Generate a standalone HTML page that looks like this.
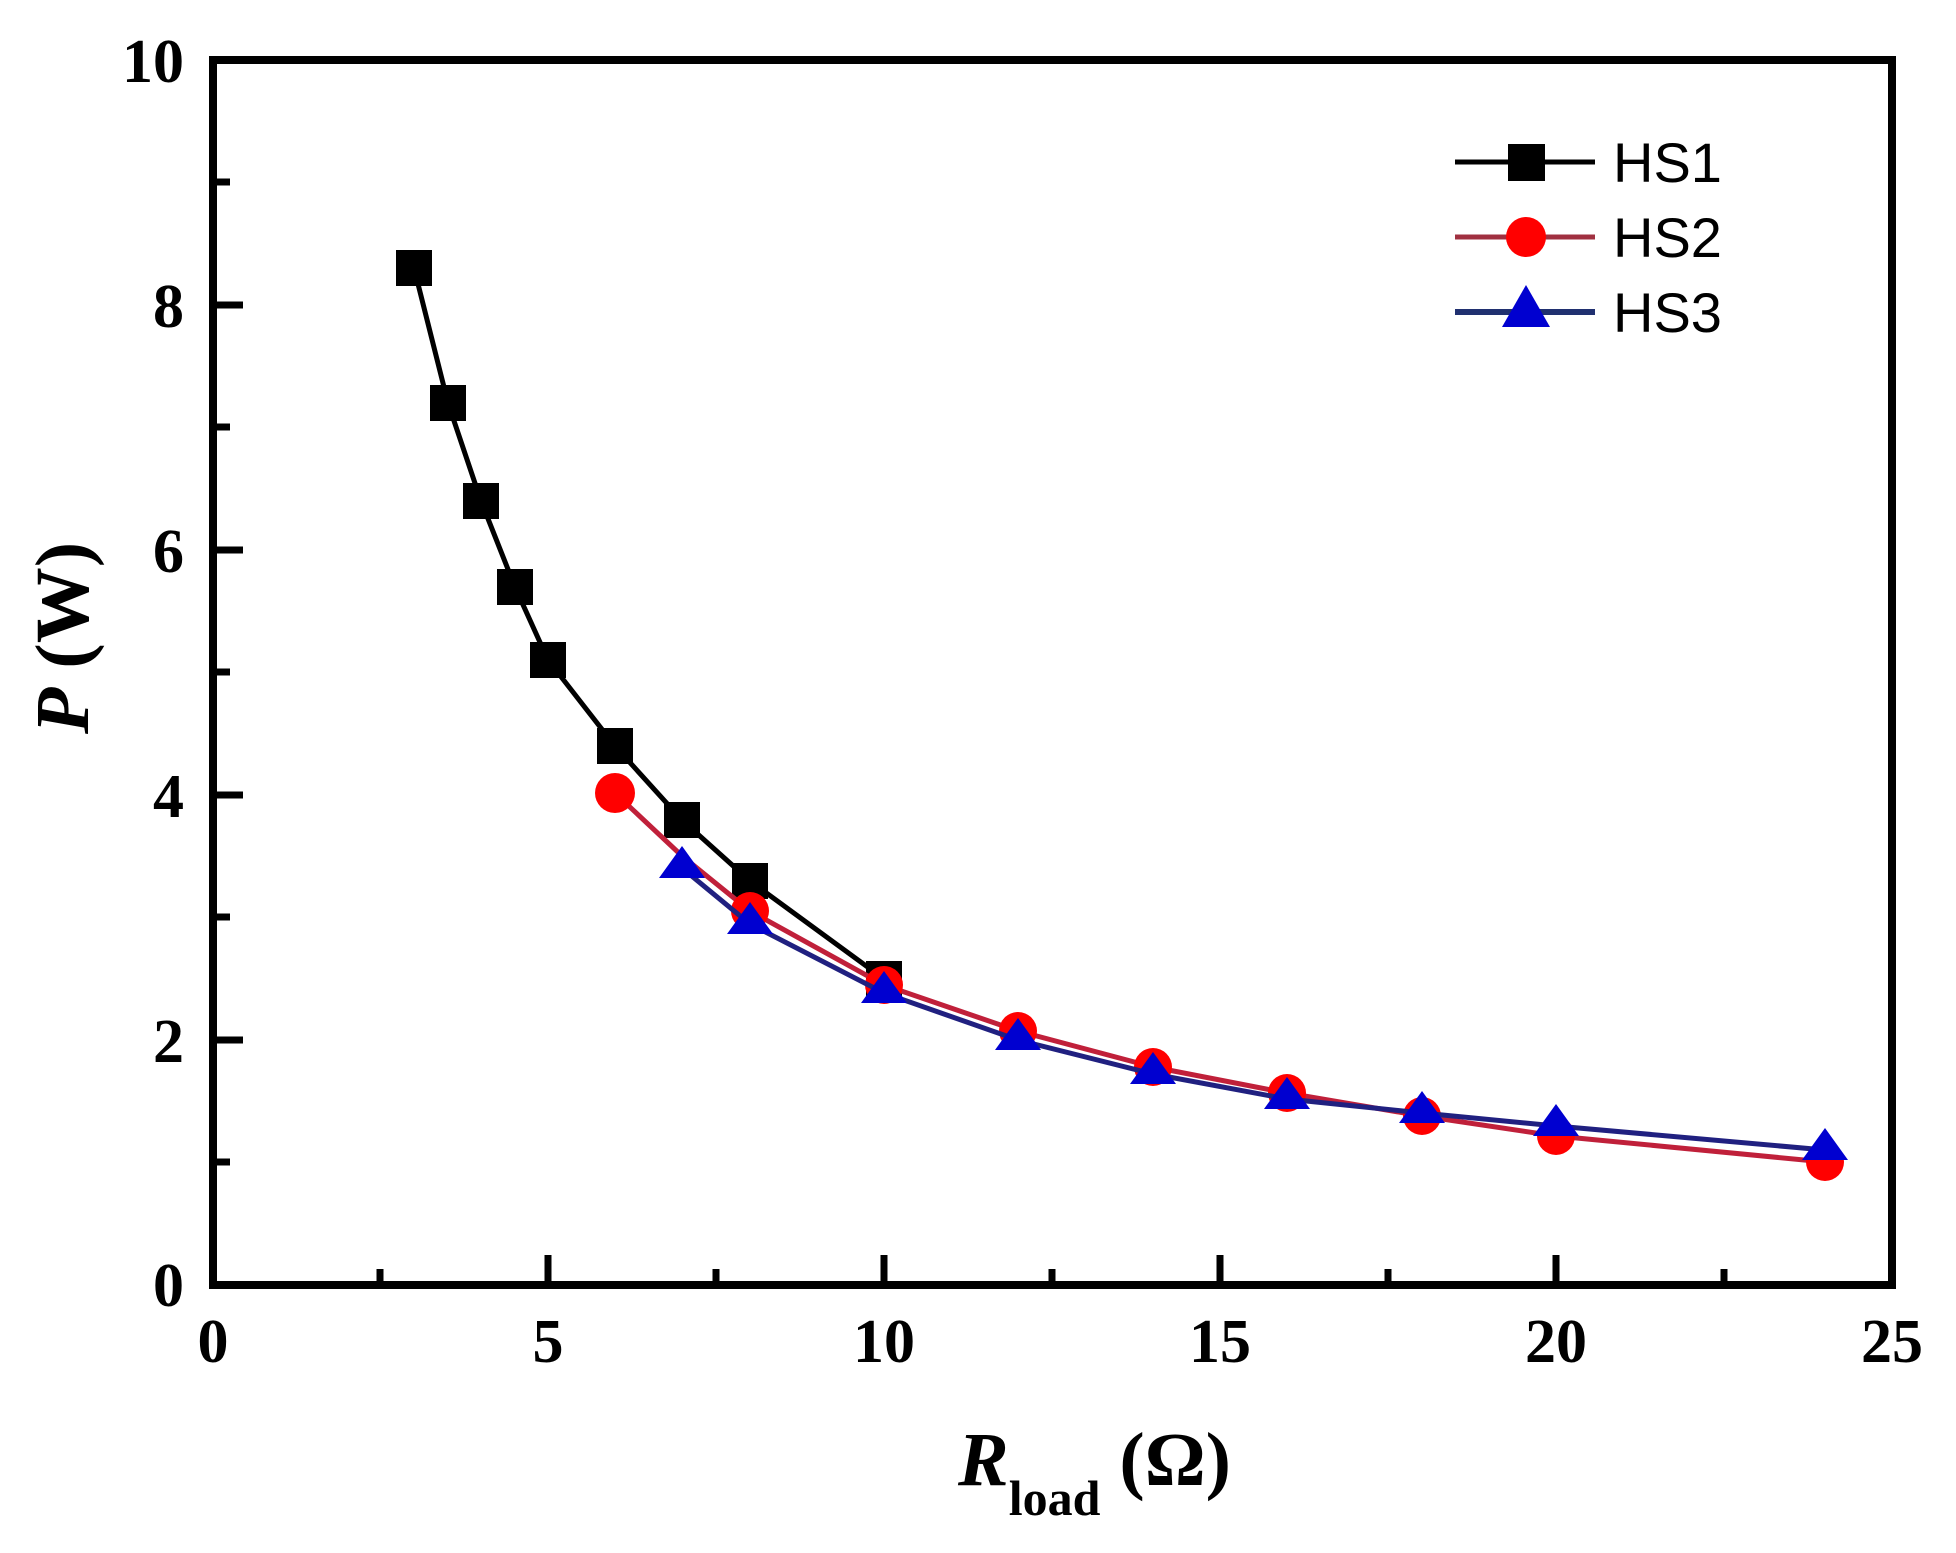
<!DOCTYPE html>
<html><head><meta charset="utf-8"><style>html,body{margin:0;padding:0;background:#fff}svg{display:block}</style></head>
<body>
<svg width="1956" height="1553" xmlns="http://www.w3.org/2000/svg">
<rect width="1956" height="1553" fill="#fff"/>
<rect x="213" y="60" width="1679" height="1225" fill="none" stroke="#000" stroke-width="8"/>
<g stroke="#000" stroke-width="7">
<line x1="548" y1="1285" x2="548" y2="1255"/><line x1="884" y1="1285" x2="884" y2="1255"/><line x1="1220" y1="1285" x2="1220" y2="1255"/><line x1="1556" y1="1285" x2="1556" y2="1255"/>
<line x1="380" y1="1285" x2="380" y2="1269"/><line x1="716" y1="1285" x2="716" y2="1269"/><line x1="1052" y1="1285" x2="1052" y2="1269"/><line x1="1388" y1="1285" x2="1388" y2="1269"/><line x1="1724" y1="1285" x2="1724" y2="1269"/>
<line x1="213" y1="1040" x2="243" y2="1040"/><line x1="213" y1="795" x2="243" y2="795"/><line x1="213" y1="550" x2="243" y2="550"/><line x1="213" y1="305" x2="243" y2="305"/>
<line x1="213" y1="1162" x2="230" y2="1162"/><line x1="213" y1="917" x2="230" y2="917"/><line x1="213" y1="672" x2="230" y2="672"/><line x1="213" y1="427" x2="230" y2="427"/><line x1="213" y1="182" x2="230" y2="182"/>
</g>
<g font-family="Liberation Serif, serif" font-weight="bold" font-size="62" fill="#000">
<g text-anchor="middle">
<text x="213" y="1362">0</text><text x="548" y="1362">5</text><text x="884" y="1362">10</text><text x="1220" y="1362">15</text><text x="1556" y="1362">20</text><text x="1892" y="1362">25</text>
</g>
<g text-anchor="end">
<text x="184" y="1306">0</text><text x="184" y="1062">2</text><text x="184" y="817">4</text><text x="184" y="572">6</text><text x="184" y="327">8</text><text x="184" y="82">10</text>
</g>
<text x="958" y="1485" font-size="76"><tspan font-style="italic">R</tspan><tspan font-size="50" dy="30">load</tspan><tspan dy="-30"> (Ω)</tspan></text>
<text transform="translate(88,638) rotate(-90)" text-anchor="middle" font-size="76"><tspan font-style="italic">P</tspan> (W)</text>
</g>
<polyline fill="none" stroke="#000" stroke-width="5" points="414,268 448,403 481,501 515,587 548,660 615,746 682,820 750,881 884,979"/>
<g fill="#000">
<rect x="396" y="250" width="36" height="36"/><rect x="430" y="385" width="36" height="36"/><rect x="463" y="483" width="36" height="36"/><rect x="497" y="569" width="36" height="36"/><rect x="530" y="642" width="36" height="36"/><rect x="597" y="728" width="36" height="36"/><rect x="664" y="802" width="36" height="36"/><rect x="732" y="863" width="36" height="36"/><rect x="866" y="961" width="36" height="36"/>
</g>
<polyline fill="none" stroke="#c0203a" stroke-width="5" points="615,793 682,856 750,911 884,985 1018,1031 1153,1067 1287,1093 1422,1116 1556,1136 1825,1162"/>
<g fill="#f00">
<circle cx="615" cy="793" r="20"/><circle cx="750" cy="911" r="19"/><circle cx="884" cy="985" r="19"/><circle cx="1018" cy="1031" r="19"/><circle cx="1153" cy="1067" r="19"/><circle cx="1287" cy="1093" r="19"/><circle cx="1422" cy="1116" r="19"/><circle cx="1556" cy="1136" r="19"/><circle cx="1825" cy="1162" r="19"/>
</g>
<polyline fill="none" stroke="#202080" stroke-width="5" points="682,868 750,924 884,993 1018,1040 1153,1074 1287,1099 1422,1113 1556,1126 1825,1150"/>
<g fill="#0000d0">
<polygon points="682,846 659,878 705,878"/><polygon points="750,902 727,934 773,934"/><polygon points="884,971 861,1003 907,1003"/><polygon points="1018,1018 995,1050 1041,1050"/><polygon points="1153,1052 1130,1084 1176,1084"/><polygon points="1287,1077 1264,1109 1310,1109"/><polygon points="1422,1091 1399,1123 1445,1123"/><polygon points="1556,1104 1533,1136 1579,1136"/><polygon points="1825,1128 1802,1160 1848,1160"/>
</g>
<line x1="1455" y1="162" x2="1595" y2="162" stroke="#000" stroke-width="5"/>
<rect x="1508" y="144" width="37" height="37" fill="#000"/>
<line x1="1455" y1="237" x2="1595" y2="237" stroke="#a03040" stroke-width="5"/>
<circle cx="1526" cy="237" r="20" fill="#f00"/>
<line x1="1455" y1="312" x2="1595" y2="312" stroke="#203070" stroke-width="6"/>
<polygon points="1526,285 1502,327 1550,327" fill="#0000d0"/>
<g font-family="Liberation Sans, sans-serif" font-size="56" fill="#000">
<text x="1613" y="182">HS1</text><text x="1613" y="257">HS2</text><text x="1613" y="332">HS3</text>
</g>
</svg>
</body></html>
